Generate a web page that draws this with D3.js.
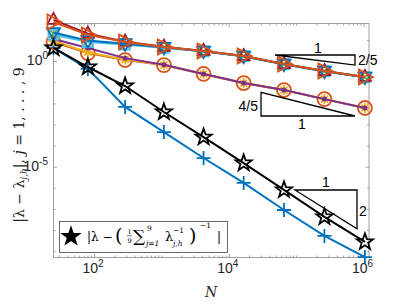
<!DOCTYPE html>
<html><head><meta charset="utf-8">
<script src="https://cdn.jsdelivr.net/npm/d3@7"></script>
<style>body{margin:0;background:#fff}svg{display:block}</style>
</head><body>
<svg id="c" width="407" height="305"></svg>
<script>
// ---- data (log10 of errors) ----
const N = [25, 81, 289, 1089, 4225, 16641, 66049, 263169, 1050625];
const err1 = [0.62, -0.37, -2.17, -3.36, -4.59, -5.77, -7.05, -8.28, -9.28];   // j=1  '+'
const err2 = [0.90, 0.38, 0.05, -0.19, -0.61, -1.04, -1.37, -1.80, -2.22];     // j=2  'o'
const err3 = [0.95, 0.42, 0.07, -0.19, -0.61, -1.04, -1.37, -1.80, -2.22];     // j=3  '*'
const err4 = [1.05, 0.62, 0.14, -0.17, -0.61, -1.04, -1.37, -1.80, -2.22];     // j=4  '.'
const err5 = [1.30, 0.95, 0.80, 0.64, 0.46, 0.23, -0.15, -0.48, -0.76];        // j=5  'x'
const err6 = [1.25, 0.90, 0.78, 0.63, 0.46, 0.23, -0.15, -0.48, -0.76];        // j=6  's'
const err7 = [1.95, 1.30, 0.92, 0.68, 0.48, 0.24, -0.14, -0.47, -0.75];        // j=7  '^'
const err8 = [1.35, 0.97, 0.82, 0.65, 0.47, 0.23, -0.15, -0.48, -0.76];        // j=8  'v'
const err9 = [1.85, 1.24, 0.90, 0.67, 0.48, 0.24, -0.14, -0.47, -0.75];        // j=9  '>'
const errHarm = [0.62, -0.28, -1.18, -2.41, -3.60, -4.83, -6.10, -7.38, -8.56]; // star
const xTicks = [1e2, 1e4, 1e6];
const xTickLabels = ["2", "4", "6"];
const yTicks = [1e-5, 1e0];
const yTickLabels = ["-5", "0"];
// slope triangles: [log10 N start, log10 N end, log10 y at corner, slope, orientation]
const slopeTri = [
  {a: 4.686, b: 5.874, y: 0.289, s: 0.4, kind: "top"},
  {a: 4.479, b: 5.874, y: -2.600, s: 0.8, kind: "bottom"},
  {a: 4.983, b: 5.904, y: -6.103, s: 2.0, kind: "top"}
];

const series = [
  {v: err1, c: "#0072BD", m: "+"},
  {v: err2, c: "#D95319", m: "o"},
  {v: err3, c: "#EDB120", m: "*"},
  {v: err4, c: "#7E2F8E", m: "."},
  {v: err5, c: "#77AC30", m: "x"},
  {v: err6, c: "#4DBEEE", m: "s"},
  {v: err7, c: "#A2142F", m: "^"},
  {v: err8, c: "#0072BD", m: "v"},
  {v: err9, c: "#D95319", m: ">"},
  {v: errHarm, c: "#000000", m: "p"}
];

const svg = d3.select("#c");
const L = 53.5, R = 369, T = 23.5, B = 257.5;
const x = d3.scaleLog().domain([25, Math.pow(10, 6.082)]).range([L, R]);
const y = d3.scaleLog().domain([Math.pow(10, -9.3), Math.pow(10, 1.78)]).range([B, T]);

// axes
const axCol = "#8a8a8a", txtCol = "#262626";
const g = svg.append("g");
function minorX() {
  const t = [];
  for (let e = 1; e <= 6; e++) for (let k = 1; k <= 9; k++) { const v = k * Math.pow(10, e); if (v >= 25 && v <= x.domain()[1]) t.push(v); }
  return t;
}
const mX = minorX().filter(v => !xTicks.includes(v));
const mY = d3.range(-9, 2).map(e => Math.pow(10, e)).filter(v => !yTicks.includes(v));
g.append("g").attr("transform", `translate(0,${B})`).call(d3.axisBottom(x).tickValues(mX).tickSize(-2).tickFormat(""));
g.append("g").attr("transform", `translate(0,${B})`).call(d3.axisBottom(x).tickValues(xTicks).tickSize(-3.5).tickFormat(""));
g.append("g").attr("transform", `translate(0,${T})`).call(d3.axisTop(x).tickValues(mX).tickSize(-2).tickFormat(""));
g.append("g").attr("transform", `translate(0,${T})`).call(d3.axisTop(x).tickValues(xTicks).tickSize(-3.5).tickFormat(""));
g.append("g").attr("transform", `translate(${L},0)`).call(d3.axisLeft(y).tickValues(mY).tickSize(-2).tickFormat(""));
g.append("g").attr("transform", `translate(${L},0)`).call(d3.axisLeft(y).tickValues(yTicks).tickSize(-3.5).tickFormat(""));
g.append("g").attr("transform", `translate(${R},0)`).call(d3.axisRight(y).tickValues(mY).tickSize(-2).tickFormat(""));
g.append("g").attr("transform", `translate(${R},0)`).call(d3.axisRight(y).tickValues(yTicks).tickSize(-3.5).tickFormat(""));
g.selectAll(".domain").remove();
g.selectAll("line").attr("stroke", axCol).attr("stroke-width", 0.8);
g.append("rect").attr("x", L).attr("y", T).attr("width", R - L).attr("height", B - T)
  .attr("fill", "none").attr("stroke", axCol).attr("stroke-width", 0.8);

// tick labels
const tl = svg.append("g").attr("fill", txtCol).attr("font-family", "Liberation Sans, Arial, sans-serif");
xTicks.forEach((v, i) => {
  const t = tl.append("text").attr("x", x(v) - 1).attr("y", B + 15).attr("font-size", 14).attr("text-anchor", "middle");
  t.append("tspan").text("10");
  t.append("tspan").attr("font-size", 10).attr("dy", -6).text(xTickLabels[i]);
});
yTicks.forEach((v, i) => {
  const t = tl.append("text").attr("x", 48).attr("y", y(v) + 4).attr("font-size", 14).attr("text-anchor", "end");
  t.append("tspan").text("10");
  t.append("tspan").attr("font-size", 10).attr("dy", -6).text(yTickLabels[i]);
});

// marker drawing
function marker(sel, m, c, px, py) {
  const gg = sel.append("g").attr("transform", `translate(${px},${py})`)
    .attr("stroke", c).attr("stroke-width", 1.8).attr("fill", "none");
  const r = 7;
  if (m === "+") gg.append("path").attr("d", `M${-r},0H${r}M0,${-r}V${r}`);
  else if (m === "o") gg.append("circle").attr("r", 7);
  else if (m === "*") { const a = 5; gg.append("path").attr("d", `M${-a},0H${a}M0,${-a}V${a}M${-a*0.7},${-a*0.7}L${a*0.7},${a*0.7}M${-a*0.7},${a*0.7}L${a*0.7},${-a*0.7}`); }
  else if (m === ".") gg.append("circle").attr("r", 2.5).attr("fill", c).attr("stroke", "none");
  else if (m === "x") { const a = 4; gg.append("path").attr("d", `M${-a},${-a}L${a},${a}M${-a},${a}L${a},${-a}`); }
  else if (m === "s") gg.append("rect").attr("x", -5).attr("y", -5).attr("width", 10).attr("height", 10);
  else if (m === "^") gg.append("path").attr("d", "M0,-7L6,4L-6,4Z");
  else if (m === "v") gg.append("path").attr("d", "M0,7L6.5,-4.5L-6.5,-4.5Z");
  else if (m === ">") gg.append("path").attr("d", "M8,0L-6,-7.5L-6,7.5Z");
  else if (m === "p") {
    const pts = [];
    for (let k = 0; k < 10; k++) { const rr = k % 2 ? 3.4 : 8.5; const a = -Math.PI / 2 + k * Math.PI / 5; pts.push([rr * Math.cos(a), rr * Math.sin(a)]); }
    gg.append("path").attr("d", "M" + pts.map(p => p.join(",")).join("L") + "Z");
  }
  return gg;
}

const line = d3.line().x(d => x(d[0])).y(d => y(d[1]));
const plot = svg.append("g");
series.forEach(s => {
  const pts = N.map((n, i) => [n, Math.pow(10, s.v[i])]);
  plot.append("path").datum(pts).attr("d", line).attr("fill", "none").attr("stroke", s.c).attr("stroke-width", 2);
  pts.forEach(p => marker(plot, s.m, s.c, x(p[0]), y(p[1])));
});

// slope triangles
const tri = svg.append("g").attr("stroke", "#000").attr("stroke-width", 1.3).attr("fill", "none");
slopeTri.forEach(t => {
  const dy = t.s * (t.b - t.a);
  let pts;
  if (t.kind === "top") pts = [[t.a, t.y], [t.b, t.y], [t.b, t.y - dy]];
  else pts = [[t.a, t.y + dy], [t.a, t.y], [t.b, t.y]];
  tri.append("path").attr("d", "M" + pts.map(p => [x(Math.pow(10, p[0])), y(Math.pow(10, p[1]))].join(",")).join("L") + "Z");
});
const ann = svg.append("g").attr("font-family", "Liberation Sans, Arial, sans-serif").attr("font-size", 14).attr("fill", "#000");
ann.append("text").attr("x", 318).attr("y", 53).attr("text-anchor", "middle").text("1");
ann.append("text").attr("x", 358).attr("y", 65).text("2/5");
ann.append("text").attr("x", 258).attr("y", 111).attr("text-anchor", "end").text("4/5");
ann.append("text").attr("x", 302).attr("y", 129).attr("text-anchor", "middle").text("1");
ann.append("text").attr("x", 326).attr("y", 187).attr("text-anchor", "middle").text("1");
ann.append("text").attr("x", 363).attr("y", 216).attr("text-anchor", "middle").text("2");

// legend
const lg = svg.append("g");
lg.append("rect").attr("x", 59.5).attr("y", 221.5).attr("width", 168).attr("height", 31).attr("fill", "#fff").attr("stroke", "#444").attr("stroke-width", 0.8);
marker(lg, "p", "#000", 71, 236.5).attr("fill", "#000");
const ff = "DejaVu Serif, serif";
function lt(xx, yy, fs, txt, ital) {
  return lg.append("text").attr("x", xx).attr("y", yy).attr("font-family", ff).attr("font-size", fs)
    .attr("font-style", ital ? "italic" : "normal").attr("fill", "#000").text(txt);
}
lt(87, 241, 12, "|λ − ");
lt(115, 242, 19, "(");
lt(129.5, 233.5, 6.5, "1").attr("text-anchor", "middle");
lg.append("line").attr("x1", 127).attr("x2", 132).attr("y1", 235.8).attr("y2", 235.8).attr("stroke", "#000").attr("stroke-width", 0.6);
lt(129.5, 242.5, 6.5, "9").attr("text-anchor", "middle");
lt(133, 242, 17, "∑");
lt(147, 231, 7.5, "9");
lt(146, 246, 7.5, "j=1", true);
lt(165, 241, 13, "λ");
lt(173, 233, 7.5, "−1");
lt(173, 246, 7.5, "j,h", true);
lt(189, 242, 19, ")");
lt(200, 228, 7.5, "−1");
lt(217, 241, 12, "|");

// axis labels
svg.append("text").attr("x", 211).attr("y", 297).attr("text-anchor", "middle")
  .attr("font-family", ff).attr("font-style", "italic").attr("font-size", 14).attr("fill", txtCol).text("N");
const yl = svg.append("text").attr("transform", "translate(24,145) rotate(-90)").attr("text-anchor", "middle")
  .attr("font-family", ff).attr("font-size", 14).attr("fill", txtCol);
yl.append("tspan").text("|λ − λ");
yl.append("tspan").attr("font-size", 9).attr("dy", 3).attr("font-style", "italic").text("j,h");
yl.append("tspan").attr("dy", -3).text("|, ");
yl.append("tspan").attr("font-style", "italic").text("j");
yl.append("tspan").text(" = 1, . . . , 9");
</script>
</body></html>
